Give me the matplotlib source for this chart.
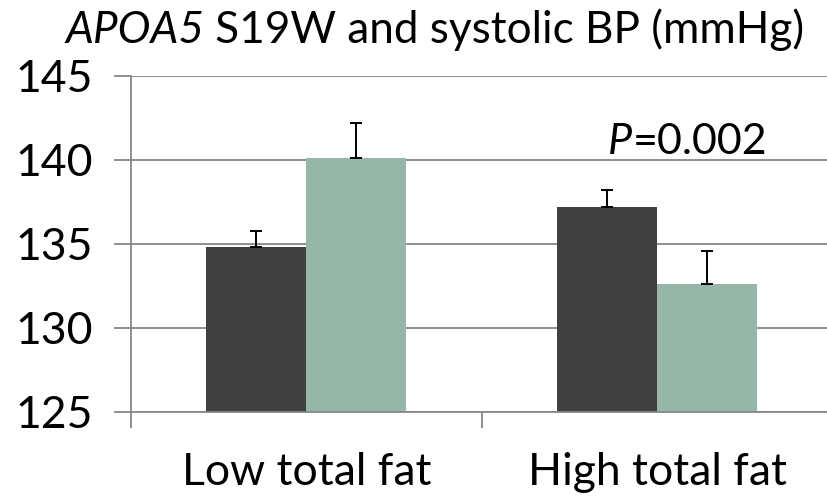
import numpy as np
import matplotlib
matplotlib.use('Agg')
import matplotlib.pyplot as plt
from matplotlib.transforms import offset_copy

categories = ['Low total fat', 'High total fat']
dark_values = [134.8, 137.2]
dark_err = [1.0, 1.0]
green_values = [140.1, 132.6]
green_err = [2.1, 2.0]
y_ticks = [125, 130, 135, 140, 145]
title_gene = 'APOA5'
title_rest = ' S19W and systolic BP (mmHg)'
p_label = '=0.002'

plt.rcParams['font.family'] = ['Lato', 'DejaVu Sans']

grey = '#878787'
fig = plt.figure(figsize=(8.28, 4.97), dpi=100)
ax = fig.add_axes([131 / 828, 85 / 497, 701.5 / 828, 336 / 497])

x = np.arange(len(categories))
w = 0.285
ax.bar(x - w / 2, dark_values, w, color='#404040', zorder=2,
       yerr=[np.zeros(2), dark_err], capsize=4.5,
       error_kw=dict(ecolor='black', elinewidth=1.4, capthick=1.4))
ax.bar(x + w / 2, green_values, w, color='#96b6a8', zorder=2,
       yerr=[np.zeros(2), green_err], capsize=4.5,
       error_kw=dict(ecolor='black', elinewidth=1.4, capthick=1.4))

ax.set_ylim(125, 145)
ax.set_xlim(-0.5, 1.5)
ax.set_yticks(y_ticks)
ax.yaxis.grid(True, color=grey, linewidth=1.3, zorder=0)
ax.set_axisbelow(True)
for s in ['top', 'right']:
    ax.spines[s].set_visible(False)
for s in ['left', 'bottom']:
    ax.spines[s].set_color(grey)
    ax.spines[s].set_linewidth(1.3)

ax.tick_params(axis='y', length=12.2, width=1.3, color=grey, pad=15, labelsize=32)
ax.set_xticks(x)
ax.set_xticklabels(categories)
ax.set_xticks([-0.5, 0.5, 1.5], minor=True)
ax.tick_params(axis='x', which='major', length=0, pad=29, labelsize=32)
ax.tick_params(axis='x', which='minor', length=11.5, width=1.3, color=grey)

# P value: italic P followed by the number
renderer = fig.canvas.get_renderer()
p_it = ax.text(0.859, 140.36, 'P', fontsize=31, fontstyle='italic',
               ha='left', va='baseline')
p_w = p_it.get_window_extent(renderer).width
ax.text(0.859, 140.36, p_label, fontsize=31, ha='left', va='baseline',
        transform=offset_copy(ax.transData, fig=fig, x=p_w + 1, y=0, units='dots'))

# title: italic gene name then plain text
t_it = fig.text(65 / 828, (497 - 43) / 497, title_gene, fontsize=31.8,
                fontstyle='italic', ha='left', va='baseline')
t_w = t_it.get_window_extent(renderer).width
fig.text(65 / 828, (497 - 43) / 497, title_rest, fontsize=31.8, ha='left', va='baseline',
         transform=offset_copy(fig.transFigure, fig=fig, x=t_w, y=0, units='dots'))

fig.savefig('out.png', dpi=100)
